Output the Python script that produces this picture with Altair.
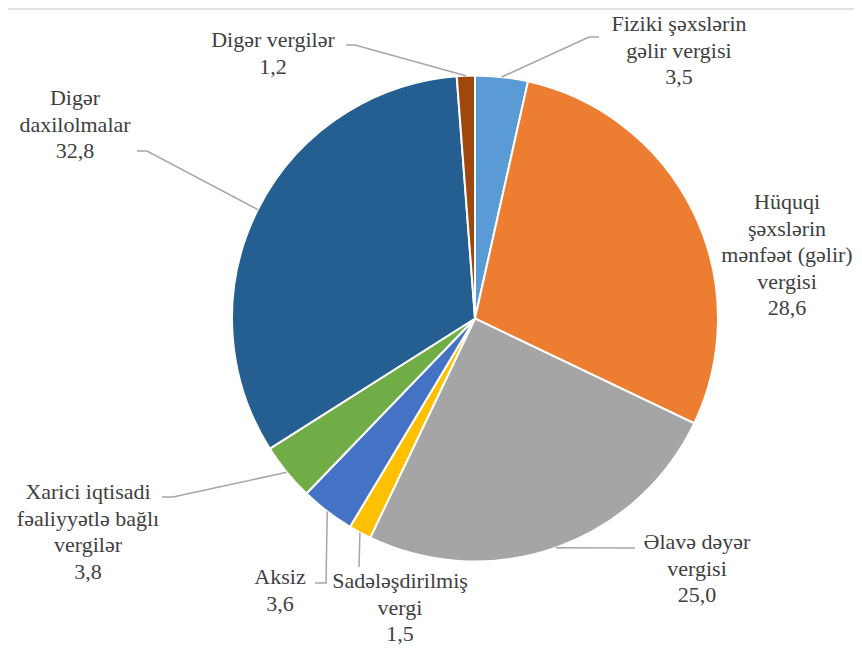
import math
import altair as alt
import pandas as pd

# ---- data ----
categories = [
    "Fiziki şəxslərin gəlir vergisi",
    "Hüquqi şəxslərin mənfəət (gəlir) vergisi",
    "Əlavə dəyər vergisi",
    "Sadələşdirilmiş vergi",
    "Aksiz",
    "Xarici iqtisadi fəaliyyətlə bağlı vergilər",
    "Digər daxilolmalar",
    "Digər vergilər",
]
values = [3.5, 28.6, 25.0, 1.5, 3.6, 3.8, 32.8, 1.2]
value_labels = ["3,5", "28,6", "25,0", "1,5", "3,6", "3,8", "32,8", "1,2"]
label_lines = [
    ["Fiziki  şəxslərin", "gəlir  vergisi"],
    ["Hüquqi", "şəxslərin", "mənfəət  (gəlir)", "vergisi"],
    ["Əlavə  dəyər", "vergisi"],
    ["Sadələşdirilmiş", "vergi"],
    ["Aksiz"],
    ["Xarici  iqtisadi", "fəaliyyətlə  bağlı", "vergilər"],
    ["Digər", "daxilolmalar"],
    ["Digər  vergilər"],
]
colors = ["#5B9BD5", "#ED7D31", "#A5A5A5", "#FFC000", "#4472C4", "#70AD47", "#255E91", "#9E480E"]

# ---- layout (page pixel coordinates) ----
CX, CY, R = 475, 318.5, 243
LINE_H = 26.5
label_pos = [  # (center x, y of first line)
    (679, 24),
    (787, 202),
    (697, 542),
    (400, 581),
    (280, 577),
    (88, 492),
    (75, 98),
    (273, 40),
]
leader_pts = [  # points after the rim point
    [(589, 37), (599, 37)],
    [],
    [(635, 548)],
    [(359, 567)],
    [(326, 583), (315, 583)],
    [(173, 497), (162, 497)],
    [(147, 151), (137, 151)],
    [(355, 45), (346, 45)],
]

total = sum(values)
pie_df = pd.DataFrame({"cat": categories, "value": values, "idx": list(range(len(values)))})

rows = []
cum = 0.0
for i, v in enumerate(values):
    a = (cum + v / 2) / total * 2 * math.pi
    cum += v
    if not leader_pts[i]:
        continue
    pts = [(CX + R * math.sin(a), CY - R * math.cos(a))] + leader_pts[i]
    for j, (px, py) in enumerate(pts):
        rows.append({"id": i, "o": j, "x": px, "y": py})
line_df = pd.DataFrame(rows)

trows = []
for i, lines in enumerate(label_lines):
    lx, ly = label_pos[i]
    for j, t in enumerate(lines + [value_labels[i]]):
        trows.append({"x": lx, "y": ly + j * LINE_H, "t": t})
text_df = pd.DataFrame(trows)

W, H = 846, 638
xs = alt.Scale(domain=[8, 8 + W], nice=False, zero=False)
ys = alt.Scale(domain=[8, 8 + H], nice=False, zero=False, reverse=True)

arcs = alt.Chart(pie_df).mark_arc(radius=R, stroke="white", strokeWidth=2).encode(
    theta=alt.Theta("value:Q", stack=True),
    color=alt.Color("cat:N", scale=alt.Scale(domain=categories, range=colors), legend=None),
    order=alt.Order("idx:Q"),
    x=alt.value(CX - 8),
    y=alt.value(CY - 8),
)

leaders = alt.Chart(line_df).mark_line(color="#A6A6A6", strokeWidth=1.5).encode(
    x=alt.X("x:Q", scale=xs, axis=None),
    y=alt.Y("y:Q", scale=ys, axis=None),
    detail="id:N",
    order=alt.Order("o:Q"),
)

texts = alt.Chart(text_df).mark_text(
    font="Liberation Serif", fontSize=22, color="#404040", align="center", baseline="middle"
).encode(
    x=alt.X("x:Q", scale=xs, axis=None),
    y=alt.Y("y:Q", scale=ys, axis=None),
    text="t:N",
)

border = alt.Chart(pd.DataFrame({"a": [0]})).mark_rule(color="#D9D9D9", strokeWidth=1.5).encode(
    x=alt.value(0), x2=alt.value(850), y=alt.value(1)
)

chart = alt.layer(border, arcs, leaders, texts).properties(
    width=W, height=H, padding=0, autosize=alt.AutoSizeParams(type="none")
).configure_view(stroke=None).resolve_scale(theta="independent")

chart.save("out.html", embed_options={"renderer": "svg", "actions": False})
